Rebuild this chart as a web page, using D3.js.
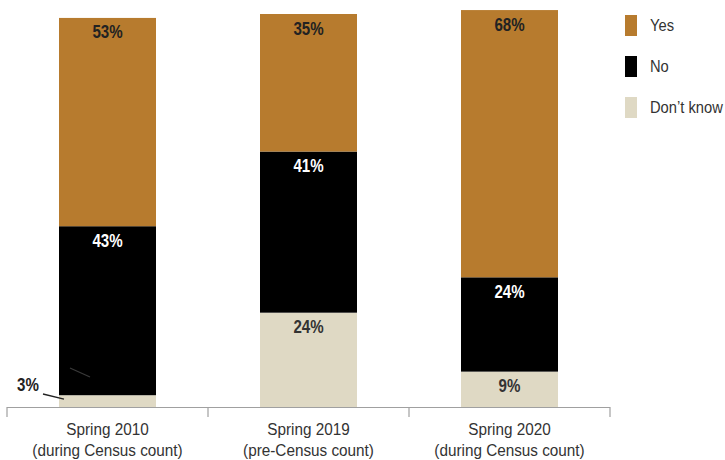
<!DOCTYPE html>
<html>
<head>
<meta charset="utf-8">
<script src="https://cdn.jsdelivr.net/npm/d3@7/dist/d3.min.js"></script>
<style>
  html, body { margin: 0; padding: 0; background: #fff; }
  svg { display: block; }
  text { font-family: "Liberation Sans", Arial, sans-serif; }
</style>
</head>
<body>
<svg id="chart" width="725" height="460"></svg>
<script>
const categories = ["Spring 2010", "Spring 2019", "Spring 2020"];
const subLabels = ["(during Census count)", "(pre-Census count)", "(during Census count)"];
const seriesNames = ["Don\u2019t know", "No", "Yes"];
const dontKnow = [3, 24, 9];
const no = [43, 41, 24];
const yes = [53, 35, 68];
const legendOrder = ["Yes", "No", "Don\u2019t know"];

const colors = { "Yes": "#B77B2E", "No": "#000000", "Don\u2019t know": "#DFD9C4" };
const labelColors = { "Yes": "#222222", "No": "#ffffff", "Don\u2019t know": "#333333" };

const svg = d3.select("#chart");

// condensed-look text: horizontally scaled
function ctext(parent, tx, ty, sx) {
  return parent.append("text")
    .attr("transform", `translate(${tx},${ty}) scale(${sx},1)`)
    .attr("x", 0).attr("y", 0);
}

const rows = categories.map((c, i) => ({ cat: c, "Don\u2019t know": dontKnow[i], "No": no[i], "Yes": yes[i] }));
const stack = d3.stack().keys(seriesNames)(rows);

const x = d3.scaleBand().domain(categories).range([7, 610]).paddingInner(0).paddingOuter(0);
const y = d3.scaleLinear().domain([0, 100]).range([407, 14]);
const barW = 97;

const g = svg.append("g");

stack.forEach(layer => {
  const key = layer.key;
  layer.forEach((d, i) => {
    const cx = x(categories[i]) + x.bandwidth() / 2;
    g.append("rect")
      .attr("x", cx - barW / 2)
      .attr("y", y(d[1]))
      .attr("width", barW)
      .attr("height", y(d[0]) - y(d[1]))
      .attr("fill", colors[key]);
    const val = d[1] - d[0];
    if (val >= 5) {
      ctext(g, cx, y(d[1]) + 20.5, 0.84)
        .attr("text-anchor", "middle")
        .attr("font-size", 18)
        .attr("font-weight", "bold")
        .attr("fill", labelColors[key])
        .text(val + "%");
    }
  });
});

// small-value annotation for Spring 2010 "Don't know"
const smallVal = dontKnow[0];
const bx0 = x(categories[0]) + x.bandwidth() / 2 - barW / 2;
ctext(g, 28, 391, 0.84)
  .attr("text-anchor", "middle")
  .attr("font-size", 18)
  .attr("font-weight", "bold")
  .attr("fill", "#222")
  .text(smallVal + "%");
g.append("line")
  .attr("x1", 43).attr("y1", 394)
  .attr("x2", bx0 + 5).attr("y2", y(smallVal / 2) - 2)
  .attr("stroke", "#222").attr("stroke-width", 1.3);
g.append("line")
  .attr("x1", bx0 + 11).attr("y1", 368)
  .attr("x2", bx0 + 31).attr("y2", 377)
  .attr("stroke", "#3a3a3a").attr("stroke-width", 1.2);

// axis
const axisY = y(0);
const axis = svg.append("g");
axis.append("line")
  .attr("x1", x.range()[0]).attr("x2", x.range()[1])
  .attr("y1", axisY + 0.5).attr("y2", axisY + 0.5)
  .attr("stroke", "#a0a0a0").attr("stroke-width", 1.2);
const tickXs = categories.map(c => x(c)).concat([x.range()[1]]);
tickXs.forEach(tx => {
  axis.append("line")
    .attr("x1", tx).attr("x2", tx)
    .attr("y1", axisY).attr("y2", axisY + 10)
    .attr("stroke", "#a0a0a0").attr("stroke-width", 1.2);
});
categories.forEach((c, i) => {
  const cx = x(c) + x.bandwidth() / 2;
  ctext(axis, cx, 435, 0.9)
    .attr("text-anchor", "middle")
    .attr("font-size", 17)
    .attr("fill", "#333")
    .text(c);
  ctext(axis, cx, 455.5, 0.9)
    .attr("text-anchor", "middle")
    .attr("font-size", 17)
    .attr("fill", "#333")
    .text(subLabels[i]);
});

// legend
const legend = svg.append("g");
legendOrder.forEach((k, i) => {
  const ly = 15 + i * 41;
  legend.append("rect")
    .attr("x", 625).attr("y", ly)
    .attr("width", 12).attr("height", 21)
    .attr("fill", colors[k]);
  ctext(legend, 650, ly + 16, 0.92)
    .attr("font-size", 16)
    .attr("fill", "#333")
    .text(k);
});
</script>
</body>
</html>
